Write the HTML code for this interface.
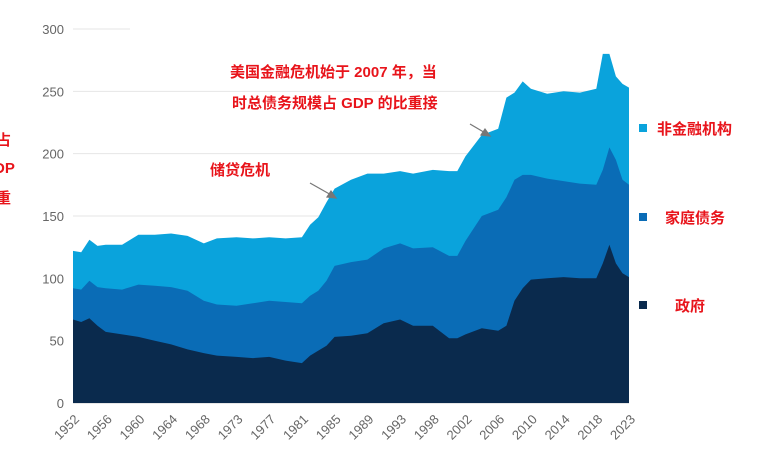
<!DOCTYPE html>
<html><head><meta charset="utf-8">
<style>
html,body{margin:0;padding:0;background:#fff;}
svg text{font-family:"Liberation Sans","Noto Sans CJK SC",sans-serif;}
</style></head>
<body>
<svg width="757" height="451" viewBox="0 0 757 451" xmlns="http://www.w3.org/2000/svg">
<g id="grid"></g>
<g id="areas"></g>
<g id="yticks"></g>
<g id="xticks"></g>
<g font-weight="bold" fill="#e8141b">
<text x="230" y="77" font-size="15">美国金融危机始于 2007 年，当</text>
<text x="232" y="108" font-size="15">时总债务规模占 GDP 的比重接</text>
<text x="210" y="175" font-size="15">储贷危机</text>
<text x="-4" y="145" font-size="15">占</text>
<text x="-6" y="173" font-size="15">DP</text>
<text x="-4" y="203" font-size="15">重</text>
</g>
<g stroke="#777" stroke-width="1.2" fill="#777">
<line x1="310" y1="183" x2="333" y2="196"/><polygon points="336,198 327,197 331,191"/>
<line x1="470" y1="124" x2="487" y2="134"/><polygon points="490,136 481,135 485,129"/>
</g>
<g font-weight="bold" fill="#e8141b" font-size="15">
<rect x="639" y="124" width="8" height="8" fill="#0aa3dc"/>
<text x="657" y="134">非金融机构</text>
<rect x="639" y="213" width="8" height="8" fill="#0a6cb6"/>
<text x="665" y="223">家庭债务</text>
<rect x="639" y="301" width="8" height="8" fill="#0a2a4d"/>
<text x="675" y="311">政府</text>
</g>
</svg>
<script>
const tickYears=[1952,1956,1960,1964,1968,1973,1977,1981,1985,1989,1993,1998,2002,2006,2010,2014,2018,2023];
const yTicks=[0,50,100,150,200,250,300];
const years=[1952,1953,1954,1955,1956,1958,1960,1962,1964,1966,1968,1970,1973,1975,1977,1979,1981,1982,1983,1984,1985,1987,1989,1991,1993,1995,1998,2000,2001,2002,2004,2006,2007,2008,2009,2010,2012,2014,2016,2018,2019,2020,2021,2022,2023];
const govt=[67,65,68,62,57,55,53,50,47,43,40,38,37,36,37,34,32,38,42,46,53,54,56,64,67,62,62,52,52,55,60,58,62,82,92,99,100,101,100,100,112,127,112,104,101];
const household=[25,26,30,31,35,36,42,44,46,47,42,41,41,44,45,47,48,48,48,52,57,59,59,60,61,62,63,66,66,75,90,97,103,97,91,84,80,77,76,75,75,78,83,75,74];
const nonfin=[30,30,33,33,35,36,40,41,43,44,46,53,55,52,51,51,53,57,59,63,62,66,69,60,58,60,62,68,68,68,65,65,80,70,75,69,68,72,73,77,93,75,67,77,78];
const X0=73,X1=629,Y0=403,Y1=29;
function xs(yr){
  for(let i=0;i<tickYears.length-1;i++){
    if(yr<=tickYears[i+1]){const f=(yr-tickYears[i])/(tickYears[i+1]-tickYears[i]);return X0+(i+f)*(X1-X0)/(tickYears.length-1);}
  }
  return X1;
}
function ys(v){return Y0-(v/300)*(Y0-Y1);}
const NS="http://www.w3.org/2000/svg";
const grid=document.getElementById('grid');
yTicks.forEach(t=>{
  const l=document.createElementNS(NS,'line');
  
  
  l.setAttribute('x1',X0);l.setAttribute('x2',t===300?130:X1);
  l.setAttribute('y1',ys(t));l.setAttribute('y2',ys(t));
  l.setAttribute('stroke',t===0?'#ccc':'#e6e6e6');l.setAttribute('stroke-width','1');
  grid.appendChild(l);
  const tx=document.createElementNS(NS,'text');
  
  
  tx.setAttribute('x',64);tx.setAttribute('y',ys(t)+5);tx.setAttribute('text-anchor','end');
  tx.setAttribute('font-size','13');tx.setAttribute('fill','#666');
  tx.textContent=t;document.getElementById('yticks').appendChild(tx);
});
const top1=[],top2=[],top3=[];
years.forEach((y,i)=>{top1.push(govt[i]);top2.push(govt[i]+household[i]);top3.push(govt[i]+household[i]+nonfin[i]);});
function area(tops,color,name){
  let d='M'+xs(years[0])+','+ys(0);
  years.forEach((y,i)=>{d+=' L'+xs(y).toFixed(1)+','+ys(tops[i]).toFixed(1);});
  d+=' L'+xs(years[years.length-1])+','+ys(0)+' Z';
  const p=document.createElementNS(NS,'path');
  
  
  p.setAttribute('d',d);p.setAttribute('fill',color);
  document.getElementById('areas').appendChild(p);
}
area(top3,'#0aa3dc','area-nonfinancial');
area(top2,'#0a6cb6','area-household');
area(top1,'#0a2a4d','area-government');
tickYears.forEach(y=>{
  const tx=document.createElementNS(NS,'text');
  
  
  const x=xs(y)+7,yy=420;
  tx.setAttribute('x',x);tx.setAttribute('y',yy);tx.setAttribute('text-anchor','end');
  tx.setAttribute('font-size','13');tx.setAttribute('fill','#666');
  tx.setAttribute('transform','rotate(-45 '+x+' '+yy+')');
  tx.textContent=y;document.getElementById('xticks').appendChild(tx);
});
</script>
</body></html>
